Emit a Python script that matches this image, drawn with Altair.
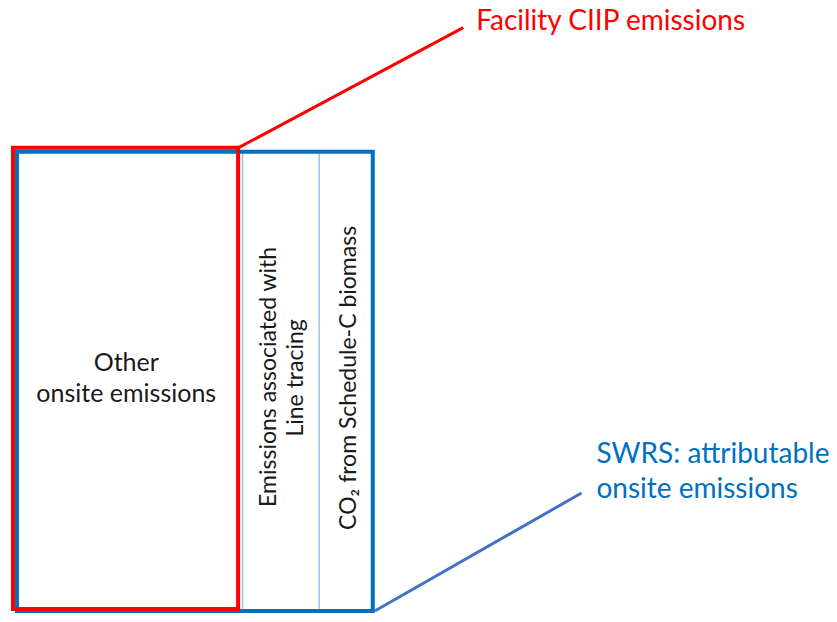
import altair as alt
import pandas as pd

# ---- diagram data (reference pixel space) ----
box_names = ["SWRS attributable", "Facility CIIP"]
box_x0 = [17, 13]
box_x1 = [375, 239.5]
box_y0 = [152, 148]
box_y1 = [619, 617]
box_colors = ["#0070C0", "#FF0000"]

divider_x = [244, 321]
divider_y0 = [152, 152]
divider_y1 = [619, 619]

leader_names = ["ciip", "ciip", "swrs", "swrs"]
leader_x = [240, 466, 377, 585]
leader_y = [148, 26, 619, 499]
leader_colors = {"ciip": "#FF0000", "swrs": "#4472C4"}

callout_text = ["Facility CIIP emissions", "SWRS: attributable", "onsite emissions"]
callout_x = [479, 600, 600]
callout_y = [28, 468, 504]
callout_color = ["#FF0000", "#0070C0", "#0070C0"]

inner_text = ["Other", "onsite emissions"]
inner_x = [127, 127]
inner_y = [375, 407]

rot_text = ["Emissions associated with", "Line tracing", "CO\u2082 from Schedule-C biomass"]
rot_x = [278, 305, 358]
rot_y = [381, 382, 382]

FONT = "Lato"

xs = alt.Scale(domain=[8, 834], nice=False, zero=False)
ys = alt.Scale(domain=[6, 622], reverse=True, nice=False, zero=False)

boxes = pd.DataFrame({"name": box_names, "x0": box_x0, "x1": box_x1,
                      "y0": box_y0, "y1": box_y1, "c": box_colors})
divs = pd.DataFrame({"x": divider_x, "y0": divider_y0, "y1": divider_y1})
leaders = pd.DataFrame({"g": leader_names, "x": leader_x, "y": leader_y})
callouts = pd.DataFrame({"t": callout_text, "x": callout_x, "y": callout_y, "c": callout_color})
inner = pd.DataFrame({"t": inner_text, "x": inner_x, "y": inner_y})
rot = pd.DataFrame({"t": rot_text, "x": rot_x, "y": rot_y})

div_layer = alt.Chart(divs).mark_rule(color="#9DC3E6", strokeWidth=1.5).encode(
    x=alt.X("x:Q", scale=xs, axis=None),
    y=alt.Y("y0:Q", scale=ys, axis=None),
    y2="y1:Q",
)

blue_box = alt.Chart(boxes[boxes["name"] == "SWRS attributable"]).mark_rect(
    fillOpacity=0, stroke="#0070C0", strokeWidth=4
).encode(
    x=alt.X("x0:Q", scale=xs, axis=None), x2="x1:Q",
    y=alt.Y("y0:Q", scale=ys, axis=None), y2="y1:Q",
)

red_box = alt.Chart(boxes[boxes["name"] == "Facility CIIP"]).mark_rect(
    fillOpacity=0, stroke="#FF0000", strokeWidth=4
).encode(
    x=alt.X("x0:Q", scale=xs, axis=None), x2="x1:Q",
    y=alt.Y("y0:Q", scale=ys, axis=None), y2="y1:Q",
)

leader_layer = alt.Chart(leaders).mark_line(strokeWidth=3).encode(
    x=alt.X("x:Q", scale=xs, axis=None),
    y=alt.Y("y:Q", scale=ys, axis=None),
    detail="g:N",
    color=alt.Color("g:N", scale=alt.Scale(domain=list(leader_colors.keys()),
                                            range=list(leader_colors.values())), legend=None),
)

callout_layer = alt.Chart(callouts).mark_text(
    align="left", baseline="alphabetic", font=FONT, fontSize=28
).encode(
    x=alt.X("x:Q", scale=xs, axis=None),
    y=alt.Y("y:Q", scale=ys, axis=None),
    text="t:N",
    color=alt.Color("c:N", scale=None),
)

inner_layer = alt.Chart(inner).mark_text(
    align="center", baseline="alphabetic", font=FONT, fontSize=25, color="#1a1a1a"
).encode(
    x=alt.X("x:Q", scale=xs, axis=None),
    y=alt.Y("y:Q", scale=ys, axis=None),
    text="t:N",
)

rot_layer = alt.Chart(rot).mark_text(
    align="center", baseline="alphabetic", font=FONT, fontSize=23, angle=270, color="#1a1a1a"
).encode(
    x=alt.X("x:Q", scale=xs, axis=None),
    y=alt.Y("y:Q", scale=ys, axis=None),
    text="t:N",
)

chart = alt.layer(
    div_layer, blue_box, red_box, leader_layer, callout_layer, inner_layer, rot_layer
).properties(
    width=821, height=606,
    autosize=alt.AutoSizeParams(type="none"),
    padding=0,
).configure_view(stroke=None)

chart.save("out.html", embed_options={"renderer": "svg", "actions": False})
